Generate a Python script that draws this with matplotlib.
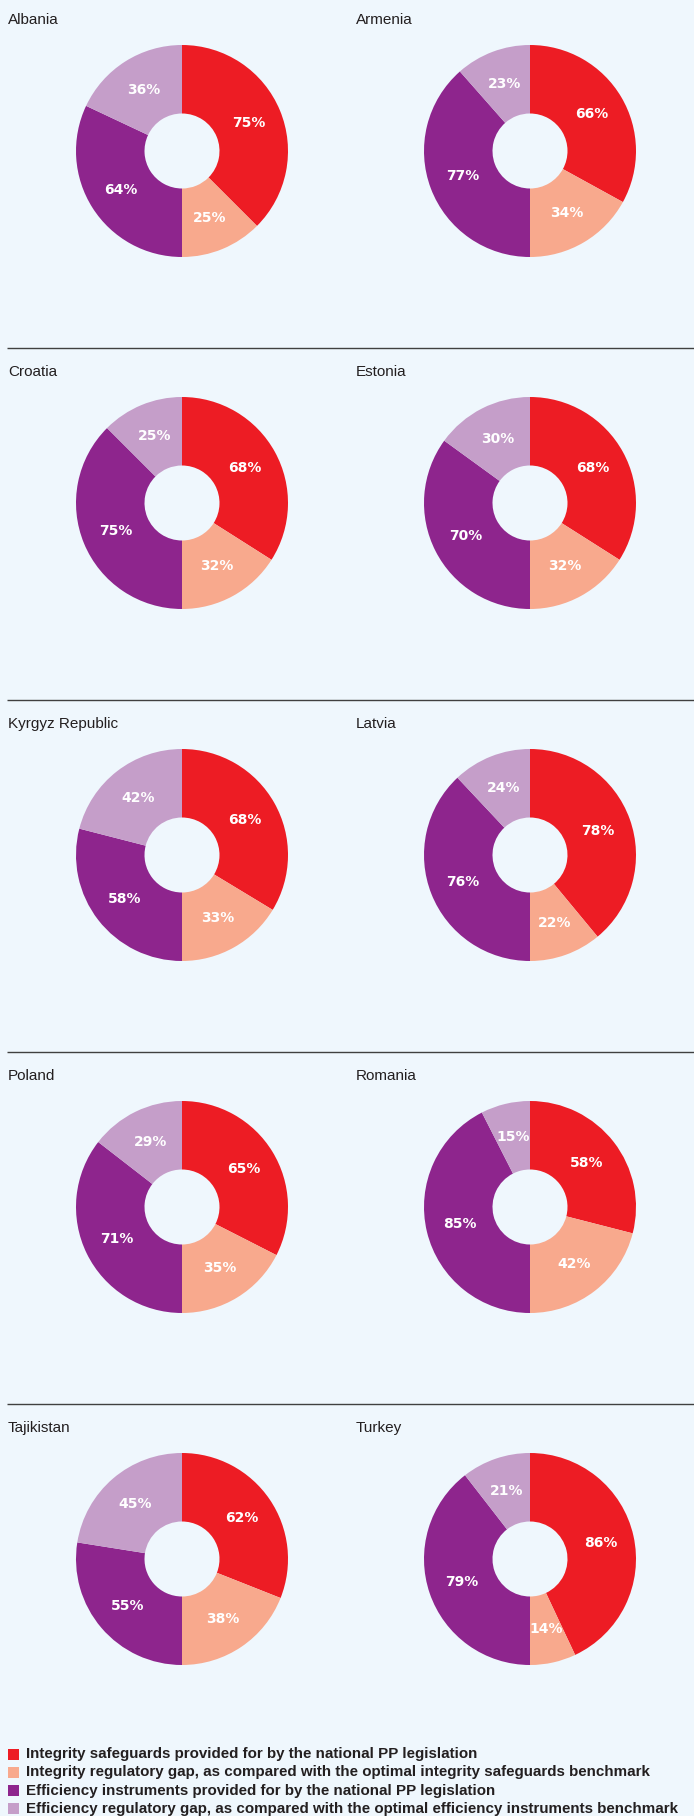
import matplotlib

matplotlib.use('Agg')
import matplotlib.pyplot as plt
from matplotlib.patches import Rectangle

# --- data ---
countries = ['Albania', 'Armenia', 'Croatia', 'Estonia', 'Kyrgyz Republic',
             'Latvia', 'Poland', 'Romania', 'Tajikistan', 'Turkey']
integrity = [75, 66, 68, 68, 68, 78, 65, 58, 62, 86]
integrity_gap = [25, 34, 32, 32, 33, 22, 35, 42, 38, 14]
efficiency = [64, 77, 75, 70, 58, 76, 71, 85, 55, 79]
efficiency_gap = [36, 23, 25, 30, 42, 24, 29, 15, 45, 21]

legend_labels = [
    'Integrity safeguards provided for by the national PP legislation',
    'Integrity regulatory gap, as compared with the optimal integrity safeguards benchmark',
    'Efficiency instruments provided for by the national PP legislation',
    'Efficiency regulatory gap, as compared with the optimal efficiency instruments benchmark',
]
colors = ['#ED1C24', '#F8A98D', '#8E258D', '#C59EC9']
bg = '#EFF7FD'
dark = '#231F20'

W, H = 694, 1816
row_pitch = 352
col_x = [182, 530]
outer_r = 106
inner_r = 37.5

fig = plt.figure(figsize=(W / 100, H / 100), dpi=100, facecolor=bg)
ax = fig.add_axes([0, 0, 1, 1], facecolor=bg)

for i, name in enumerate(countries):
    row, col = divmod(i, 2)
    cx = col_x[col]
    cy = H - (151 + row * row_pitch)
    # each half of the ring is one group (integrity right, efficiency left)
    s_int = integrity[i] + integrity_gap[i]
    s_eff = efficiency[i] + efficiency_gap[i]
    sizes = [integrity[i] / s_int, integrity_gap[i] / s_int,
             efficiency[i] / s_eff, efficiency_gap[i] / s_eff]
    labels = [f'{v}%' for v in (integrity[i], integrity_gap[i],
                                 efficiency[i], efficiency_gap[i])]
    wedges, texts = ax.pie(sizes, colors=colors, startangle=90, counterclock=False,
                           radius=outer_r, center=(cx, cy), frame=True,
                           labels=labels, labeldistance=0.68,
                           wedgeprops=dict(width=outer_r - inner_r, linewidth=0),
                           textprops=dict(color='white', fontsize=10, fontweight='bold',
                                          family='DejaVu Sans'))
    for t in texts:
        t.set_ha('center')
        t.set_va('center')

    ax.text(8 + col * 348, H - (20 + row * row_pitch), name, fontsize=11,
            family='Liberation Sans', color=dark, va='center', ha='left')

# separators between rows
for row in range(1, 5):
    y = H - (347.5 + (row - 1) * row_pitch)
    ax.plot([7, W], [y, y], color='#404040', lw=1.0, solid_capstyle='butt')

# legend
for k, (lab, c) in enumerate(zip(legend_labels, colors)):
    y = H - (1754 + k * 18.3)
    ax.add_patch(Rectangle((8, y - 5.5), 11, 11, facecolor=c, edgecolor='none'))
    ax.text(26, y, lab, fontsize=10.9, family='Liberation Sans', fontweight='bold',
            color=dark, va='center', ha='left')

ax.set_xlim(0, W)
ax.set_ylim(0, H)
ax.set_aspect('auto')
ax.axis('off')

fig.savefig('out.png', dpi=100, facecolor=bg)
plt.close(fig)
